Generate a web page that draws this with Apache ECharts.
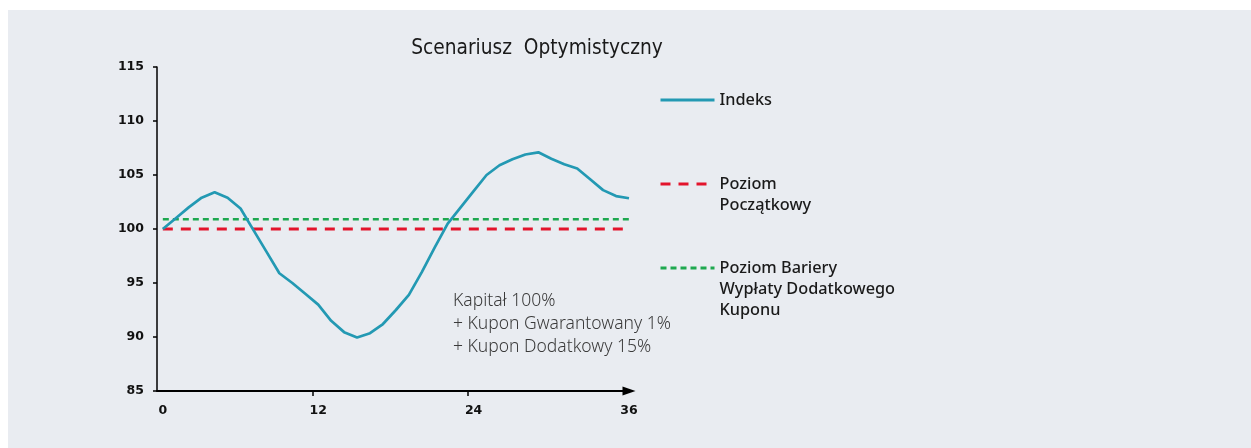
<!DOCTYPE html>
<html lang="pl">
<head>
<meta charset="utf-8">
<title>Scenariusz Optymistyczny</title>
<script src="https://cdn.jsdelivr.net/npm/echarts@6/dist/echarts.min.js"></script>
<style>
  html, body { margin: 0; padding: 0; background: #fff; }
  #panel { position: absolute; left: 8px; top: 10px; width: 1243px; height: 438px; background: #e9ecf1; }
  #chart { position: absolute; left: 0; top: 0; width: 1251px; height: 448px; }
</style>
</head>
<body>
<div id="panel"></div>
<div id="chart"></div>
<script>
  // months since start
  const months = [0, 1, 2, 3, 4, 5, 6, 7, 8, 9, 10, 11, 12, 13, 14, 15, 16, 17, 18,
    19, 20, 21, 22, 23, 24, 25, 26, 27, 28, 29, 30, 31, 32, 33, 34, 35, 36];
  const indexValues = [100, 101.0, 102.0, 102.9, 103.4, 102.9, 101.9, 99.9, 97.9, 95.9,
    95.0, 94.0, 93.0, 91.5, 90.45, 89.95, 90.35, 91.2, 92.5, 93.9, 96.0, 98.3, 100.5,
    102.0, 103.5, 105.0, 105.9, 106.45, 106.9, 107.1, 106.5, 106.0, 105.6, 104.6, 103.6,
    103.05, 102.85];
  const initialLevel = [100, 100];
  const barrierLevel = [100.9, 100.9];
  const levelMonths = [0, 36];
  const xLabels = [0, 12, 24, 36];
  const xTicks = [12, 24];
  const seriesNames = ["Indeks", "Poziom Początkowy", "Poziom Bariery Wypłaty Dodatkowego Kuponu"];
  const legendLabels = ["Indeks", "Poziom\nPoczątkowy", "Poziom Bariery\nWypłaty Dodatkowego\nKuponu"];
  const note = "Kapitał 100%\n+ Kupon Gwarantowany 1%\n+ Kupon Dodatkowy 15%";

  const pair = (xs, ys) => xs.map((x, i) => [x, ys[i]]);
  const tickShift = -0.45;
  const LH = 21;

  // legend text is centred on the icon, so pad with blank lines above
  // to keep the icon level with the first line
  const legendAt = (i, iconY) => {
    const lines = legendLabels[i].split("\n").length;
    const text = "\n".repeat(lines - 1) + legendLabels[i];
    const blockH = (2 * lines - 1) * LH;
    return {
      left: 659, top: iconY - Math.max(blockH, 14) / 2, padding: 0,
      orient: "vertical", selectedMode: false,
      itemWidth: 54, itemHeight: 14,
      itemStyle: { opacity: 0 },
      lineStyle: { width: 3 },
      data: [seriesNames[i]],
      formatter: () => text,
      textStyle: { fontFamily: "Noto Sans", fontSize: 16.3, fontWeight: 500, color: "#1a1a1a", lineHeight: LH }
    };
  };

  const axisFont = { fontFamily: "DejaVu Sans", fontSize: 12.5, fontWeight: "bold", color: "#111" };

  const chart = echarts.init(document.getElementById("chart"), null, { renderer: "canvas" });
  chart.setOption({
    animation: false,
    backgroundColor: "transparent",
    title: [{
      text: "Scenariusz  Optymistyczny",
      left: 537, top: 38, textAlign: "center", padding: 0,
      textStyle: { fontFamily: "DejaVu Sans Condensed", fontSize: 20.7, fontWeight: "normal", color: "#1a1a1a" }
    }, {
      text: note,
      left: 453, top: 290, padding: 0,
      textStyle: { fontFamily: "Noto Sans", fontSize: 17.5, fontWeight: 300, color: "#3a3a3a", lineHeight: 23 }
    }],
    legend: [legendAt(0, 100), legendAt(1, 184), legendAt(2, 268)],
    grid: { left: 157, right: 622, top: 67, bottom: 57 },
    xAxis: {
      type: "value", min: tickShift, max: 36,
      splitLine: { show: false },
      axisLine: {
        onZero: false, symbol: ["none", "triangle"], symbolSize: [9, 13],
        lineStyle: { color: "#000", width: 2 }
      },
      axisTick: { customValues: xTicks.map(v => v + tickShift), length: 5, lineStyle: { color: "#000", width: 1.5 } },
      axisLabel: { customValues: xLabels, margin: 13, ...axisFont }
    },
    yAxis: {
      type: "value", min: 85, max: 115, interval: 5,
      splitLine: { show: false },
      axisLine: { show: true, onZero: false, lineStyle: { color: "#000", width: 1.5 } },
      axisTick: { show: true, length: 4, lineStyle: { color: "#000", width: 1.5 } },
      axisLabel: { margin: 13, ...axisFont }
    },
    series: [{
      name: seriesNames[0], type: "line", symbol: "none", z: 3,
      data: pair(months, indexValues),
      lineStyle: { color: "#2399b3", width: 2.7 }, itemStyle: { color: "#2399b3" }
    }, {
      name: seriesNames[1], type: "line", symbol: "none", z: 2,
      data: pair(levelMonths, initialLevel),
      lineStyle: { color: "#e3142c", width: 3, type: [10, 8] }, itemStyle: { color: "#e3142c" }
    }, {
      name: seriesNames[2], type: "line", symbol: "none", z: 2,
      data: pair(levelMonths, barrierLevel),
      lineStyle: { color: "#1ea84f", width: 2.6, type: [6, 4] }, itemStyle: { color: "#1ea84f" }
    }]
  });
</script>
</body>
</html>
